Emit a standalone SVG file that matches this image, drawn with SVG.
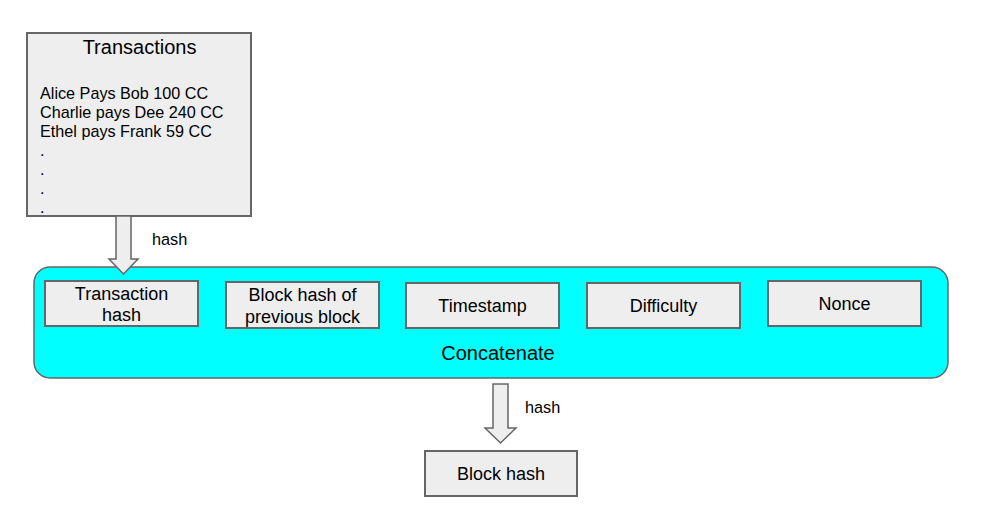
<svg xmlns="http://www.w3.org/2000/svg" width="984" height="526" viewBox="0 0 984 526">
<style>
text{font-family:"Liberation Sans",Arial,sans-serif;fill:#000}
.box{fill:#eeeeee;stroke:#666666;stroke-width:2}
.arrow{fill:#eeeeee;stroke:#666666;stroke-width:1.5;stroke-linejoin:miter}
.lbl{font-size:18px;text-anchor:middle}
.small{font-size:16.3px}
.line{font-size:16.2px}
</style>
<rect width="984" height="526" fill="#ffffff"/>
<g id="transactions">
<rect class="box" x="27" y="33" width="224" height="183"/>
<text x="139.5" y="54" font-size="20" text-anchor="middle">Transactions</text>
<text class="line" x="40" y="99">Alice Pays Bob 100 CC</text>
<text class="line" x="40" y="118">Charlie pays Dee 240 CC</text>
<text class="line" x="40" y="137">Ethel pays Frank 59 CC</text>
<text class="line" x="40" y="156">.</text>
<text class="line" x="40" y="175">.</text>
<text class="line" x="40" y="194">.</text>
<text class="line" x="40" y="213">.</text>
</g>
<g id="concatenate">
<rect x="34" y="267" width="914" height="111" rx="16" ry="16" fill="#00ffff" stroke="#666666" stroke-width="1.5"/>
<text x="498" y="360" font-size="20" text-anchor="middle">Concatenate</text>
</g>
<g id="transaction-hash">
<rect class="box" x="45" y="281" width="153" height="45"/>
<text class="lbl" x="121.5" y="300">Transaction</text>
<text class="lbl" x="121.5" y="321">hash</text>
</g>
<g id="prev-block-hash">
<rect class="box" x="226" y="282" width="153" height="46"/>
<text class="lbl" x="302.5" y="301">Block hash of</text>
<text class="lbl" x="302.5" y="323">previous block</text>
</g>
<g id="timestamp">
<rect class="box" x="406" y="283" width="153" height="45"/>
<text class="lbl" x="482.5" y="312">Timestamp</text>
</g>
<g id="difficulty">
<rect class="box" x="587" y="283" width="153" height="45"/>
<text class="lbl" x="663.5" y="312">Difficulty</text>
</g>
<g id="nonce">
<rect class="box" x="768" y="281" width="153" height="45"/>
<text class="lbl" x="844.5" y="310">Nonce</text>
</g>
<g id="block-hash">
<rect class="box" x="425" y="451" width="152" height="45"/>
<text class="lbl" x="501" y="480">Block hash</text>
</g>
<g id="connectors">
<polygon class="arrow" points="116,216 131,216 131,259 138,259 123.5,274 109,259 116,259"/>
<text class="small" x="152" y="245">hash</text>
<polygon class="arrow" points="493,384 508,384 508,428 516,428 500.5,443 485,428 493,428"/>
<text class="small" x="525" y="413">hash</text>
</g>
</svg>
